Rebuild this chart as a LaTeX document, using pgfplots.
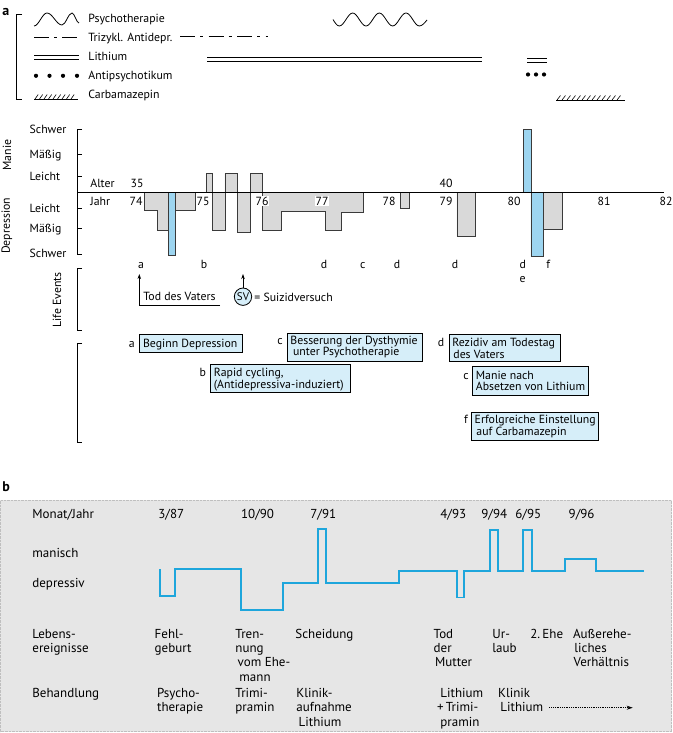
\documentclass[border=0pt]{standalone}
\usepackage{fontspec}
\setmainfont{PT Sans}
\usepackage{pgfplots}
\pgfplotsset{compat=1.18}
\usetikzlibrary{arrows.meta}

\definecolor{bargray}{HTML}{D9D9D9}
\definecolor{barblue}{HTML}{9DD5F0}
\definecolor{boxblue}{HTML}{D6EEF9}
\definecolor{linecyan}{HTML}{1EA6DC}
\definecolor{bgb}{HTML}{E6E6E6}
\definecolor{edge}{HTML}{3A3A3A}

% text helpers, coordinates in px from the top left corner
\newcommand{\tl}[3]{\node[anchor=base west,inner sep=0pt] at (#1,#2+4) {#3};}
\newcommand{\tc}[3]{\node[anchor=base,inner sep=0pt] at (#1,#2+4) {#3};}

\begin{document}
\begin{tikzpicture}[font=\fontsize{11.8}{12}\selectfont]
\useasboundingbox (0,0) rectangle (672pt,-733pt);

% background of panel b
\begin{scope}[x=1pt,y=-1pt]
  \fill[bgb] (0,500) rectangle (672,732);
  \draw[black!25,densely dotted] (0.5,500.5) rectangle (671.5,731.5);
\end{scope}

% panel a: episodes, year vs. severity (+ mania, - depression)
\begin{axis}[at={(77pt,-256.7pt)},anchor=south west,scale only axis,
  width=587pt,height=128pt,xmin=73.109,xmax=81.970,ymin=-4,ymax=4,
  hide axis,clip=false,
  every axis plot/.append style={const plot,draw=edge,line width=0.8pt}]
  \addplot[fill=bargray] coordinates {(74.125,0) (74.125,-1.08) (74.317,-2.33) (74.488,-1.08) (74.891,0)} --cycle;
  \addplot[fill=bargray] coordinates {(75.067,0) (75.067,1.21) (75.158,-2.33) (75.343,1.21) (75.529,-2.48) (75.721,1.21) (75.912,-2.33) (76.199,-1.14) (76.864,-2.33) (77.105,-1.21) (77.437,0)} --cycle;
  \addplot[fill=bargray] coordinates {(77.985,0) (77.985,-0.98) (78.125,0)} --cycle;
  \addplot[fill=bargray] coordinates {(78.845,0) (78.845,-2.75) (79.117,0)} --cycle;
  \addplot[fill=bargray] coordinates {(80.154,0) (80.154,-2.29) (80.430,0)} --cycle;
  \addplot[fill=barblue] coordinates {(74.488,0) (74.488,-3.94) (74.589,0)} --cycle;
  \addplot[fill=barblue] coordinates {(79.846,0) (79.846,3.96) (79.962,0)} --cycle;
  \addplot[fill=barblue] coordinates {(79.962,0) (79.962,-4.0) (80.154,0)} --cycle;
\end{axis}

% panel b: mood course (schematic time axis)
\begin{axis}[at={(0pt,-628.3pt)},anchor=south west,scale only axis,
  width=672pt,height=105pt,xmin=0,xmax=672,ymin=-1.5,ymax=2,
  hide axis,clip=false]
  \addplot[const plot,linecyan,line width=1.7pt] coordinates {(160,0.47) (160,-0.42) (175,0.47) (241.3,-0.89) (282.7,0) (318.3,1.8) (325.7,0) (398.7,0.42) (456.7,-0.47) (464.3,0.42) (490,1.77) (498.3,0.42) (522.7,1.77) (531.7,0.41) (564.7,0.82) (596.3,0.4) (644.3,0.4)};
\end{axis}

\begin{scope}[x=1pt,y=-1pt,line width=0.8pt]
  % ---------- panel a, treatments ----------
  \node[anchor=base west,inner sep=0pt,font=\fontsize{14}{14}\selectfont\bfseries] at (2,15.5) {a};
  \draw (22,14)--(16,14)--(16,99)--(22,99);
  % legend symbols
  \draw (34,26) cos (40.5,19.5) sin (47,13) cos (54.5,19) sin (62,25) cos (67,19) sin (72,13) cos (75.5,18) sin (79,23);
  \draw[dash pattern=on 15pt off 5pt on 3pt off 5pt] (34,37) -- (80,37);
  \draw (34,55.3)--(79,55.3) (34,59.5)--(79,59.5);
  \foreach \x in {36,49.5,63,77} {\fill (\x,75.8) circle (2.1);}
  \draw[line width=0.6pt] (34,99)--(78,99);
  \foreach \x in {35,39.5,...,75} {\draw[line width=0.6pt] (\x,99)--(\x+3.2,94.5);}
  \tl{88}{18.5}{Psychotherapie}
  \tl{88}{37.5}{Trizykl. Antidepr.}
  \tl{88}{56.7}{Lithium}
  \tl{88}{75.8}{Antipsychotikum}
  \tl{88}{95}{Carbamazepin}
  % treatment periods
  \draw (333,19.5) sin (339.3,26) cos (346,19.5) sin (352.7,13) cos (359.3,19.5) sin (366,26) cos (372.7,19.5) sin (379.3,13) cos (386,19.5) sin (392.7,26) cos (399.3,19.5) sin (406,13) cos (412.7,19.5) sin (419.3,26) cos (427,20);
  \draw[dash pattern=on 15pt off 5pt on 3pt off 5.5pt] (180,36)--(268,36);
  \draw (207,57.3)--(482,57.3) (207,61.7)--(482,61.7);
  \draw (527,58.3)--(547,58.3) (527,62.5)--(547,62.5);
  \foreach \x in {528,536,544} {\fill (\x,74.5) circle (2.1);}
  \draw[line width=0.6pt] (556,100)--(625,100);
  \foreach \x in {557,562,...,620} {\draw[line width=0.6pt] (\x,100)--(\x+3.5,95.5);}

  % ---------- panel a, course ----------
  \draw (82,129)--(77,129)--(77,254)--(82,254);
  \foreach \y in {154,176,208,228} {\draw (77,\y)--(82,\y);}
  \draw (77,192.7)--(664,192.7);
  \node[rotate=90,inner sep=0pt] at (7,155) {Manie};
  \node[rotate=90,inner sep=0pt] at (7,226) {Depression};
  \tl{29.3}{129}{Schwer}
  \tl{29.3}{154}{Mäßig}
  \tl{29.3}{176}{Leicht}
  \tl{29.3}{208}{Leicht}
  \tl{29.3}{228}{Mäßig}
  \tl{29.3}{253}{Schwer}
  \tl{90}{183}{Alter}
  \tc{137}{183}{35}
  \tc{446}{183}{40}
  \tl{90}{201}{Jahr}
  \foreach \x/\j in {136/74,203/75,262/76,322/77,389/78,446/79,514/80,604/81,666/82}
    {\node[anchor=base,fill=white,inner sep=1pt] at (\x,205) {\j};}
  \foreach \x/\l in {141/a,204/b,324/d,362.7/c,397/d,455/d,522.7/d,548.3/f}
    {\tc{\x}{264}{\l}}
  \tc{522.7}{278.3}{e}

  % ---------- life events ----------
  \draw (82,268)--(77,268)--(77,330)--(82,330);
  \node[rotate=90,inner sep=0pt] at (57,300) {Life Events};
  \draw[-{Stealth[length=5pt,width=3.5pt]}] (220,305)--(139.3,305)--(139.3,274);
  \tl{143}{296.7}{Tod des Vaters}
  \draw[-{Stealth[length=5pt,width=3.5pt]}] (243,288)--(243,274);
  \draw[fill=boxblue] (243,296.7) circle (8.7);
  \node[inner sep=0pt,font=\fontsize{11}{11}\selectfont] at (243,296.7) {SV};
  \tl{254}{297}{= Suizidversuch}

  % ---------- explanations ----------
  \draw (82,343.3)--(77,343.3)--(77,442.7)--(82,442.7);
  \draw[fill=boxblue] (139.3,334) rectangle (242.7,352.7);
  \tc{131.7}{343.3}{a}
  \tl{142.7}{343.3}{Beginn Depression}
  \draw[fill=boxblue] (287.3,333.3) rectangle (422,361);
  \tc{280}{340}{c}
  \tl{290}{340}{Besserung der Dysthymie}
  \tl{292.7}{351.7}{unter Psychotherapie}
  \draw[fill=boxblue] (210.7,364.3) rectangle (350,392.7);
  \tc{202.7}{372.7}{b}
  \tl{213.5}{372.7}{Rapid cycling,}
  \tl{213.5}{384}{(Antidepressiva-induziert)}
  \draw[fill=boxblue] (449.3,334) rectangle (560,361.7);
  \tc{441}{342.7}{d}
  \tl{452}{342.7}{Rezidiv am Todestag}
  \tl{453}{354.3}{des Vaters}
  \draw[fill=boxblue] (472.7,366.7) rectangle (588.7,395);
  \tc{466}{375}{c}
  \tl{475.5}{375}{Manie nach}
  \tl{475.5}{386.7}{Absetzen von Lithium}
  \draw[fill=boxblue] (471.3,412.3) rectangle (598.3,440.7);
  \tc{466}{419.3}{f}
  \tl{474.3}{419.3}{Erfolgreiche Einstellung}
  \tl{476}{431.7}{auf Carbamazepin}
\end{scope}

% ---------- panel b texts ----------
\begin{scope}[x=1pt,y=-1pt,line width=0.8pt,font=\fontsize{13}{14}\selectfont]
  \node[anchor=base west,inner sep=0pt,font=\fontsize{14}{14}\selectfont\bfseries] at (2,491.5) {b};
  \tl{32}{514.3}{Monat/Jahr}
  \tl{158}{514.3}{3/87}
  \tl{240.7}{514.3}{10/90}
  \tl{310}{514.3}{7/91}
  \tl{440}{514.3}{4/93}
  \tl{481}{514.3}{9/94}
  \tl{515}{514.3}{6/95}
  \tl{568.3}{514.3}{9/96}
  \tl{32}{553.3}{manisch}
  \tl{32}{583.3}{depressiv}
  \tl{32}{634}{Lebens-}
  \tl{32}{648.3}{ereignisse}
  \tl{154.3}{634}{Fehl-}
  \tl{154.3}{648.3}{geburt}
  \tl{235}{634}{Tren-}
  \tl{235}{648.3}{nung}
  \tl{237.3}{662.7}{vom Ehe-}
  \tl{239}{677}{mann}
  \tl{295}{634}{Scheidung}
  \tl{433.3}{634}{Tod}
  \tl{433.3}{648.3}{der}
  \tl{434.7}{662.7}{Mutter}
  \tl{492}{634}{Ur-}
  \tl{492}{648.3}{laub}
  \tl{530}{634}{2.\,Ehe}
  \tl{572.7}{634}{Außerehe-}
  \tl{574}{648.3}{liches}
  \tl{573.3}{662.7}{Verhältnis}
  \tl{32}{693.3}{Behandlung}
  \tl{156.7}{693.3}{Psycho-}
  \tl{156.7}{707.7}{therapie}
  \tl{235}{693.3}{Trimi-}
  \tl{235}{707.7}{pramin}
  \tl{296}{693.3}{Klinik-}
  \tl{296}{707.7}{aufnahme}
  \tl{298.3}{722}{Lithium}
  \tl{440}{693.3}{Lithium}
  \tl{436.7}{707.7}{+\,Trimi-}
  \tl{440}{722}{pramin}
  \tl{497.7}{693.3}{Klinik}
  \tl{500}{707.7}{Lithium}
  \draw[densely dotted,-{Stealth[length=6pt,width=4pt]}] (549.3,707.7)--(632.7,707.7);
\end{scope}
\end{tikzpicture}
\end{document}
